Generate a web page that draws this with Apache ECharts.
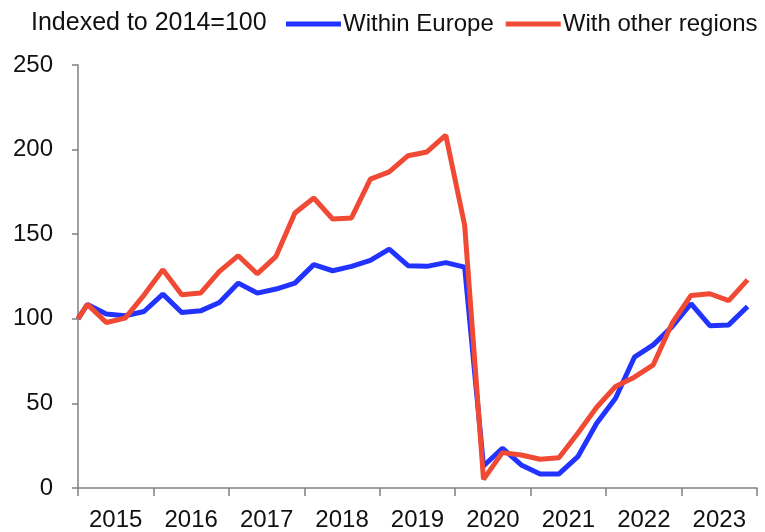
<!DOCTYPE html>
<html>
<head>
<meta charset="utf-8">
<script src="https://cdn.jsdelivr.net/npm/echarts@6/dist/echarts.min.js"></script>
<style>
  html, body { margin: 0; padding: 0; background: #fff; }
  #chart { width: 765px; height: 532px; }
</style>
</head>
<body>
<div id="chart"></div>
<script>
// periods: base (2014=100) then quarters 2015Q1 .. 2023Q4
const periods = ['2014',
  '2015Q1', '2015Q2', '2015Q3', '2015Q4',
  '2016Q1', '2016Q2', '2016Q3', '2016Q4',
  '2017Q1', '2017Q2', '2017Q3', '2017Q4',
  '2018Q1', '2018Q2', '2018Q3', '2018Q4',
  '2019Q1', '2019Q2', '2019Q3', '2019Q4',
  '2020Q1', '2020Q2', '2020Q3', '2020Q4',
  '2021Q1', '2021Q2', '2021Q3', '2021Q4',
  '2022Q1', '2022Q2', '2022Q3', '2022Q4',
  '2023Q1', '2023Q2', '2023Q3', '2023Q4']

const withinEurope = [100,
  108.5, 102.8, 101.8, 104.3,
  114.6, 103.7, 104.7, 109.6,
  121.1, 115.2, 117.6, 121.1,
  132, 128.4, 131, 134.5,
  141.2, 131.4, 131, 133.2,
  130.5, 13, 23.5, 13.6,
  8.3, 8.3, 18.5, 38.3,
  53, 77.3, 84.6, 95.4,
  108.9, 95.9, 96.4, 107.3]

const withOtherRegions = [100,
  108.5, 97.8, 100.4, 114,
  129, 114.2, 115.2, 128,
  137.3, 126.6, 136.9, 162.5,
  171.4, 159, 159.6, 182.6,
  186.8, 196.4, 198.6, 208.5,
  155.3, 5.1, 20.9, 19.5,
  17, 17.9, 32.4, 47.7,
  60, 65.5, 72.8, 97.4,
  113.8, 114.8, 110.7, 123]

const yearLabels = ['2015', '2016', '2017', '2018', '2019', '2020', '2021', '2022', '2023']

// base year value sits at the start of 2015, quarters at their midpoints
function periodToX(p) {
  if (p.indexOf('Q') < 0) return Number(p) + 1
  const [y, q] = p.split('Q')
  return Number(y) + (Number(q) - 0.5) / 4
}

const FONT = '"Liberation Sans", Arial, sans-serif'
const AXIS_GRAY = '#808080'

const chart = echarts.init(document.getElementById('chart'))

chart.setOption({
  animation: false,
  title: {
    text: 'Indexed to 2014=100',
    left: 26,
    top: 6,
    textStyle: { fontFamily: FONT, fontSize: 25, fontWeight: 'normal', color: '#111' }
  },
  legend: {
    left: 286,
    top: 12,
    width: 479,
    padding: 0,
    itemWidth: 55,
    itemHeight: 5,
    itemGap: 12,
    icon: 'rect',
    textStyle: { fontFamily: FONT, fontSize: 24, color: '#111', padding: [0, 0, 0, -3] },
    data: ['Within Europe', 'With other regions']
  },
  grid: { left: 78, right: 8, top: 65, bottom: 44, containLabel: false },
  xAxis: [{
    type: 'value',
    min: 2015,
    max: 2024,
    interval: 1,
    axisLine: { show: true, lineStyle: { color: AXIS_GRAY, width: 1.5 } },
    axisTick: { show: true, length: 8, lineStyle: { color: AXIS_GRAY, width: 1.5 } },
    axisLabel: { show: false },
    splitLine: { show: false }
  }, {
    type: 'category',
    position: 'bottom',
    data: yearLabels,
    boundaryGap: true,
    axisLine: { show: false },
    axisTick: { show: false },
    axisLabel: { fontFamily: FONT, fontSize: 24, color: '#111', margin: 20 },
    splitLine: { show: false }
  }],
  yAxis: {
    type: 'value',
    min: 0,
    max: 250,
    interval: 50,
    axisLine: { show: true, lineStyle: { color: AXIS_GRAY, width: 1.5 } },
    axisTick: { show: true, length: 6, lineStyle: { color: AXIS_GRAY, width: 1.5 } },
    axisLabel: { fontFamily: FONT, fontSize: 24, color: '#111', margin: 25 },
    splitLine: { show: false }
  },
  series: [{
    name: 'Within Europe',
    type: 'line',
    xAxisIndex: 0,
    data: periods.map((p, i) => [periodToX(p), withinEurope[i]]),
    showSymbol: false,
    symbol: 'none',
    color: '#2233FF',
    lineStyle: { color: '#2233FF', width: 5 },
    z: 2
  }, {
    name: 'With other regions',
    type: 'line',
    xAxisIndex: 0,
    data: periods.map((p, i) => [periodToX(p), withOtherRegions[i]]),
    showSymbol: false,
    symbol: 'none',
    color: '#F04A35',
    lineStyle: { color: '#F04A35', width: 5 },
    z: 3
  }]
})
</script>
</body>
</html>
